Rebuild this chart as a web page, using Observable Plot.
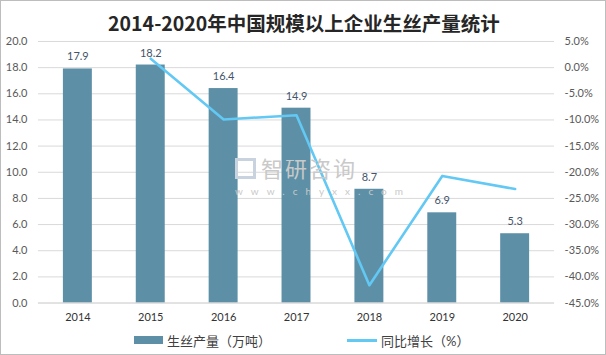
<!DOCTYPE html>
<html><head><meta charset="utf-8">
<script src="https://cdn.jsdelivr.net/npm/d3@7"></script>
<script src="https://cdn.jsdelivr.net/npm/@observablehq/plot@0.6"></script>
<style>
html,body{margin:0;padding:0;background:#fff;}
#wrap{position:relative;width:606px;height:355px;box-sizing:border-box;border:1px solid #bdbdbd;overflow:hidden;font-family:Lato,"Noto Sans CJK SC",sans-serif;}
#title{position:absolute;left:0;top:8px;width:606px;text-align:center;font-size:19.5px;font-weight:bold;color:#262626;font-family:"Noto Sans CJK SC",sans-serif;line-height:28px;}
#chart{position:absolute;left:-1px;top:29px;}
#legend{position:absolute;left:0;top:329px;width:606px;height:20px;font-size:13px;color:#404040;}
.lg{position:absolute;top:0;display:flex;align-items:center;height:20px;}
.wm{position:absolute;color:#c9c9c9;white-space:nowrap;}
</style></head>
<body>
<div id="wrap">
  <div id="title">2014-2020年中国规模以上企业生丝产量统计</div>
  <div id="chart"></div>
  <div class="wm" style="left:234px;top:157px;"><span style="display:inline-block;width:21px;height:21px;border:3px solid #c9d3e0;box-sizing:border-box;"></span></div>
  <div class="wm" style="left:260px;top:153px;font-size:22px;line-height:27px;letter-spacing:2px;font-family:'Noto Sans CJK SC',sans-serif;">智研咨<span style="letter-spacing:0">询</span></div>
  <div class="wm" style="left:234px;top:184px;font-size:10px;line-height:12px;letter-spacing:8px;font-family:Lato,sans-serif;">www.chyxx.co<span style="letter-spacing:0">m</span></div>
  <div id="legend">
    <div class="lg" style="left:133px;"><span style="display:inline-block;width:29px;height:8px;background:#5d90a6;margin-right:4px;"></span>生丝产量（万吨）</div>
    <div class="lg" style="left:346px;"><span style="display:inline-block;width:30px;height:3px;background:#62c8f4;margin-right:4px;"></span>同比增长（%）</div>
  </div>
</div>
<script>
const years = ["2014","2015","2016","2017","2018","2019","2020"];
const output = [17.9, 18.2, 16.4, 14.9, 8.7, 6.9, 5.3];
const growthYears = ["2015","2016","2017","2018","2019","2020"];
const growth = [1.7, -9.9, -9.1, -41.6, -20.7, -23.2];
const leftTicks = [0,2,4,6,8,10,12,14,16,18,20];
const rightTicks = [5,0,-5,-10,-15,-20,-25,-30,-35,-40,-45];

const bars = years.map((y,i)=>({year:y, value:output[i]}));
const line = growthYears.map((y,i)=>({year:y, pct:growth[i]}));
const pctToLeft = d3.scaleLinear([-45,5],[0,20]);

const chart = Plot.plot({
  width: 606,
  height: 301,
  marginTop: 11,
  marginBottom: 28,
  marginLeft: 38,
  marginRight: 51,
  style: {fontFamily: 'Lato, "Noto Sans CJK SC", sans-serif', fontSize: "11px", color: "#595959", background: "transparent"},
  x: {type: "band", domain: years, paddingInner: 0.6, paddingOuter: 0.3, label: null},
  y: {domain: [0, 20], label: null},
  marks: [
    Plot.gridY(leftTicks, {stroke: "#d9d9d9", strokeOpacity: 1}),
    Plot.barY(bars, {x: "year", y: "value", fill: "#5d90a6"}),
    Plot.ruleY([0], {stroke: "#d9d9d9"}),
    Plot.axisY(leftTicks, {anchor: "left", tickSize: 0, tickPadding: 11, tickFormat: d => d.toFixed(1), label: null, fill: "#595959"}),
    Plot.axisY(rightTicks.map(v => pctToLeft(v)), {anchor: "right", tickSize: 0, tickPadding: 10, tickFormat: d => pctToLeft.invert(d).toFixed(1) + "%", label: null, fill: "#595959"}),
    Plot.axisX({tickSize: 0, tickPadding: 10, label: null, fill: "#333333", fontSize: "11px"}),
    Plot.line(line, {x: "year", y: d => pctToLeft(d.pct), stroke: "#62c8f4", strokeWidth: 2.6}),
    Plot.text(bars, {x: "year", y: "value", text: d => d.value.toFixed(1), dy: -12, fill: "#44546a", fontSize: 11})
  ]
});
document.getElementById("chart").appendChild(chart);
</script>
</body></html>
